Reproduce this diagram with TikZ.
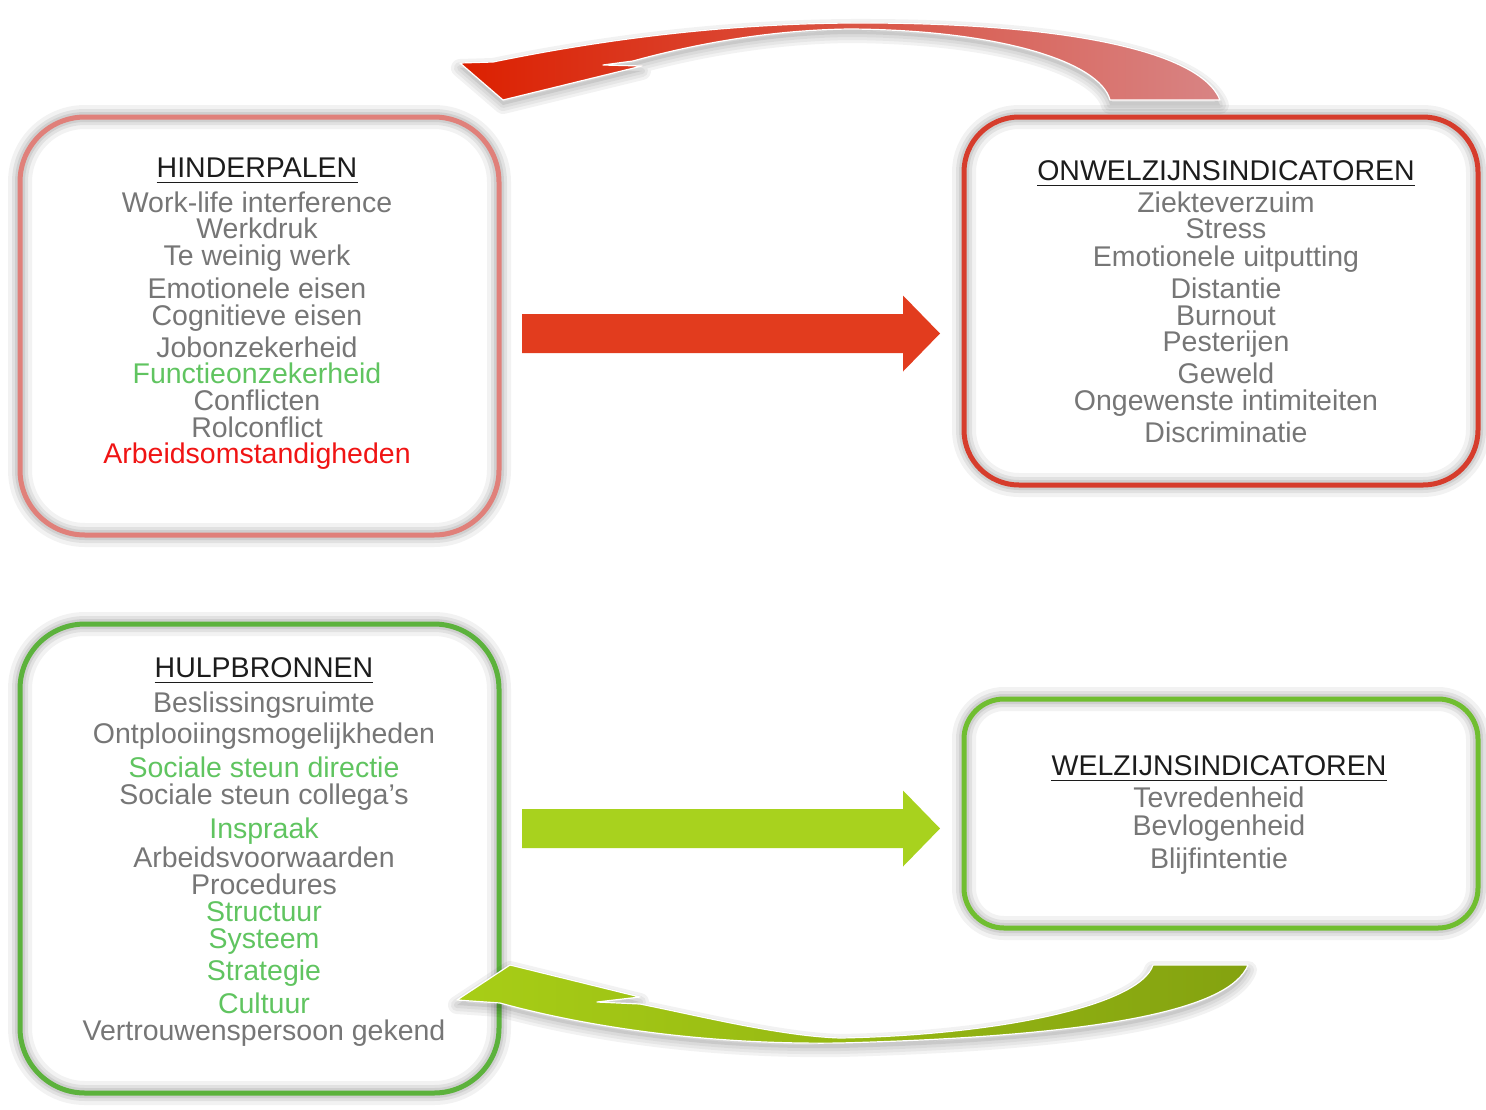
\documentclass[tikz,border=0pt]{standalone}
\usepackage{fontspec}
\setmainfont{Liberation Sans}
\usetikzlibrary{calc}
\definecolor{txtgray}{RGB}{118,118,118}
\definecolor{txthead}{RGB}{28,28,28}
\definecolor{txtgreen}{RGB}{96,196,96}
\definecolor{txtred}{RGB}{240,20,20}
\definecolor{bxH}{RGB}{224,128,122}
\definecolor{bxO}{RGB}{214,60,44}
\definecolor{bxHU}{RGB}{92,178,60}
\definecolor{bxW}{RGB}{112,190,48}
\definecolor{arrR}{RGB}{226,60,30}
\definecolor{arrG}{RGB}{168,210,30}
\definecolor{crvRl}{RGB}{220,32,0}
\definecolor{crvRr}{RGB}{216,132,132}
\definecolor{crvGl}{RGB}{168,206,22}
\definecolor{crvGr}{RGB}{132,162,16}

\newcommand{\RedCurvePath}{(460,63) -- (493,62) .. controls (600,40) and (720,24) .. (850,23) .. controls (1060,22) and (1200,50) .. (1220,100) -- (1110,100) .. controls (1100,62) and (1000,30) .. (850,29) .. controls (760,30) and (680,48) .. (633,61) -- (603,65) -- (642,66) -- (503,100) -- cycle}
\newcommand{\GreenCurvePath}{(457,1000) -- (510,965) -- (640,997) -- (597,1002) -- (640,1004) .. controls (700,1016) and (780,1036) .. (840,1038) .. controls (1000,1035) and (1140,1005) .. (1153,965) -- (1248,965) .. controls (1230,1010) and (1100,1036) .. (840,1043) .. controls (700,1045) and (580,1025) .. (500,1003) -- cycle}

\tikzset{
  glow/.style={preaction={draw=black, opacity=0.05, line width=24},
               preaction={draw=black, opacity=0.07, line width=16},
               preaction={draw=black, opacity=0.08, line width=10}},
  boxnode/.style={rectangle, glow, line width=5, inner sep=0, outer sep=0},
  item/.style={anchor=base, inner sep=0, font=\fontsize{28.5}{30}\selectfont},
  head/.style={item, text=txthead},
  uline/.style={line width=1.8, draw=txthead},
  cshadow/.style={black, opacity=0.05, line join=round, yshift=-5pt}
}

\begin{document}
\begin{tikzpicture}[x=1pt, y=-1pt]
\useasboundingbox (0,0) rectangle (1486,1109);

% boxes
\node[boxnode, draw=bxH, minimum width=479, minimum height=418, rounded corners=65] (H) at (259.5,326) {};
\node[boxnode, draw=bxO, minimum width=514, minimum height=368, rounded corners=55] (O) at (1221,301) {};
\node[boxnode, draw=bxHU, minimum width=479, minimum height=469, rounded corners=65] (HU) at (259.5,858.5) {};
\node[boxnode, draw=bxW, minimum width=514, minimum height=229, rounded corners=40] (W) at (1221,813.5) {};

% headers
\node[head] (hH) at (257,177) {HINDERPALEN};
\node[head] (hO) at (1226,180) {ONWELZIJNSINDICATOREN};
\node[head] (hHU) at (264,677) {HULPBRONNEN};
\node[head] (hW) at (1219,775) {WELZIJNSINDICATOREN};
\foreach \n in {hH,hO,hHU,hW}
  \draw[uline] ([yshift=-5.5pt]\n.base west) -- ([yshift=-5.5pt]\n.base east);

% items
\foreach \yy/\cc/\lbl [count=\i] in {
  212/txtgray/Work-life interference,
  238/txtgray/Werkdruk,
  265/txtgray/Te weinig werk,
  298/txtgray/Emotionele eisen,
  325/txtgray/Cognitieve eisen,
  357/txtgray/Jobonzekerheid,
  383/txtgreen/Functieonzekerheid,
  410/txtgray/Conflicten,
  437/txtgray/Rolconflict,
  463/txtred/Arbeidsomstandigheden}
  \node[item, text=\cc] (hi\i) at (257,\yy) {\lbl};

\foreach \yy/\lbl [count=\i] in {
  212/Ziekteverzuim,
  238/Stress,
  266/Emotionele uitputting,
  298/Distantie,
  325/Burnout,
  351/Pesterijen,
  383/Geweld,
  410/Ongewenste intimiteiten,
  442/Discriminatie}
  \node[item, text=txtgray] (oi\i) at (1226,\yy) {\lbl};

\foreach \yy/\cc/\lbl [count=\i] in {
  712/txtgray/Beslissingsruimte,
  743/txtgray/Ontplooiingsmogelijkheden,
  777/txtgreen/Sociale steun directie,
  804/txtgray/Sociale steun collega’s,
  838/txtgreen/Inspraak,
  867/txtgray/Arbeidsvoorwaarden,
  894/txtgray/Procedures,
  921/txtgreen/Structuur,
  948/txtgreen/Systeem,
  980/txtgreen/Strategie,
  1013/txtgreen/Cultuur,
  1040/txtgray/Vertrouwenspersoon gekend}
  \node[item, text=\cc] (ui\i) at (264,\yy) {\lbl};

\foreach \yy/\lbl [count=\i] in {
  807/Tevredenheid,
  835/Bevlogenheid,
  868/Blijfintentie}
  \node[item, text=txtgray] (wi\i) at (1219,\yy) {\lbl};

% straight arrows
\coordinate (rs) at (522,333.5);
\coordinate (re) at (940,333.5);
\fill[arrR] ($(rs)+(0,-19.5)$) -- ($(re)+(-37,-19.5)$) -- ($(re)+(-37,-38)$) -- (re)
  -- ($(re)+(-37,38)$) -- ($(re)+(-37,19.5)$) -- ($(rs)+(0,19.5)$) -- cycle;
\coordinate (gs) at (522,828.5);
\coordinate (ge) at (940,828.5);
\fill[arrG] ($(gs)+(0,-19.5)$) -- ($(ge)+(-37,-19.5)$) -- ($(ge)+(-37,-38)$) -- (ge)
  -- ($(ge)+(-37,38)$) -- ($(ge)+(-37,19.5)$) -- ($(gs)+(0,19.5)$) -- cycle;

% curved arrows: shadows
\foreach \w in {18,12,6}
  \draw[cshadow, line width=\w] \RedCurvePath;
\fill[cshadow, opacity=0.08] \RedCurvePath;
\foreach \w in {18,12,6}
  \draw[cshadow, line width=\w] \GreenCurvePath;
\fill[cshadow, opacity=0.08] \GreenCurvePath;

% curved arrows
\shadedraw[left color=crvRl, right color=crvRr, draw=white, line width=1.2, line join=round] \RedCurvePath;
\shadedraw[left color=crvGl, right color=crvGr, draw=white, line width=1.2, line join=round] \GreenCurvePath;
\end{tikzpicture}
\end{document}
